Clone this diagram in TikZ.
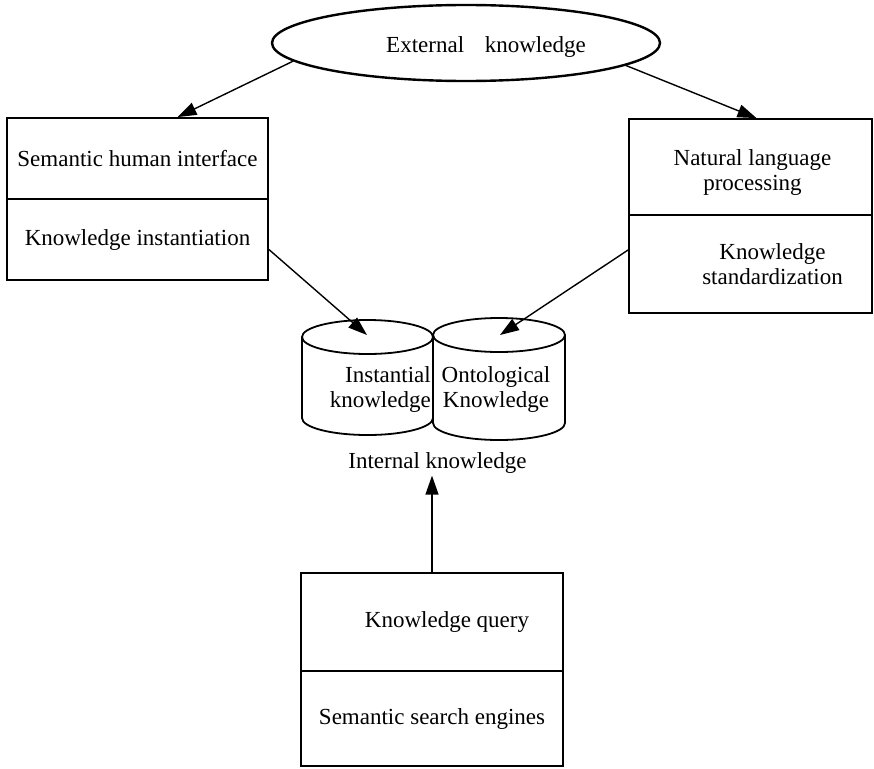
\documentclass[tikz,border=0pt]{standalone}
\usepackage{fontspec}
\setmainfont{Liberation Serif}
\usetikzlibrary{arrows.meta,shapes.geometric}
\tikzset{
  every node/.style={font=\fontsize{23}{25}\selectfont},
  box/.style={draw,line width=1.8pt,rectangle,inner sep=2pt,align=center},
  arr/.style={line width=1.4pt,-{Triangle[length=19pt,width=13pt]}},
  cyl/.style={line width=1.8pt}
}
\begin{document}
\begin{tikzpicture}[x=1pt,y=1pt]
\useasboundingbox (0,0) rectangle (874,-768);
% external knowledge
\node[draw,ellipse,line width=2.4pt,minimum width=388pt,minimum height=76pt,inner sep=0pt] (ext) at (466,-43) {\rule{0pt}{24pt}\hspace*{40pt}External\hspace{0.9em}knowledge};
% left box
\node[box,minimum width=261pt,minimum height=81pt] (shi) at (137.5,-158.5) {Semantic human interface};
\node[box,minimum width=261pt,minimum height=81pt] (ki) at (137.5,-239.5) {Knowledge instantiation};
% right box
\node[box,minimum width=243pt,minimum height=96pt] (nlp) at (750.5,-167) {\rule{0pt}{27pt}\hspace*{4pt}Natural language\\\hspace*{4pt}processing};
\node[box,minimum width=243pt,minimum height=98pt] (ks) at (750.5,-264) {\hspace*{44pt}Knowledge\\\hspace*{44pt}standardization};
% cylinders
\draw[cyl] (302,-337) -- (302,-418) arc[start angle=180,end angle=360,x radius=65.5,y radius=17] -- (433,-337);
\draw[cyl] (367.5,-337) ellipse[x radius=65.5,y radius=17];
\draw[cyl] (433,-335) -- (433,-423) arc[start angle=180,end angle=360,x radius=66,y radius=17] -- (565,-335);
\draw[cyl] (499,-335) ellipse[x radius=66,y radius=17];
\coordinate (cylL) at (367,-335);
\coordinate (cylR) at (500,-335);
\node[align=right,anchor=east,inner sep=1pt] (inst) at (432,-389) {Instantial\\knowledge};
\node[align=center,inner sep=1pt] (onto) at (496,-389) {Ontological\\Knowledge};
\node[inner sep=2pt] (ik) at (437.5,-463) {Internal knowledge};
% bottom box
\node[box,minimum width=262pt,minimum height=98pt] (kq) at (432,-622) {\hspace*{30pt}Knowledge query};
\node[box,minimum width=262pt,minimum height=95pt] (sse) at (432,-718.5) {Semantic search engines};
% arrows
\draw[arr] (ext.186) -- ([xshift=40pt]shi.north);
\draw[arr] (ext.352) -- ([xshift=6pt]nlp.north);
\draw[arr] ([yshift=-10pt]ki.east) -- (cylL);
\draw[arr] ([yshift=14pt]ks.west) -- (cylR);
\draw[arr] (kq.north) -- (kq.north |- ik.south);
\end{tikzpicture}
\end{document}
